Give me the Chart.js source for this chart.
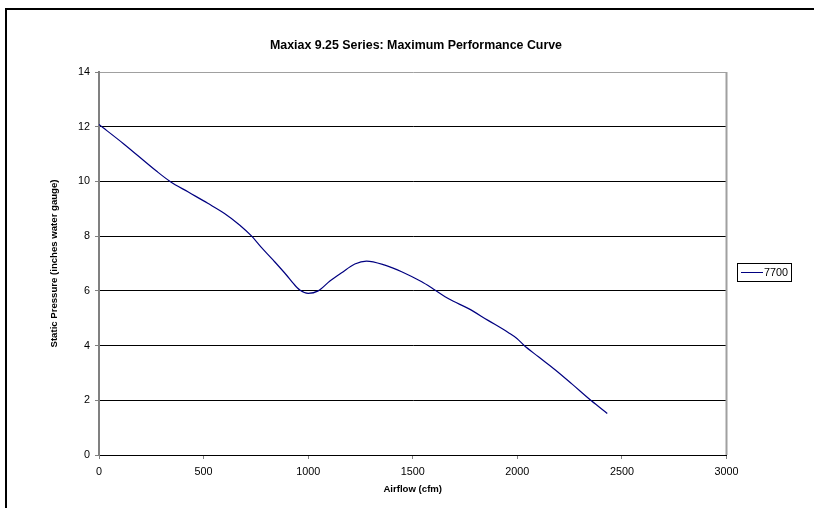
<!DOCTYPE html>
<html>
<head>
<meta charset="utf-8">
<script src="https://cdn.jsdelivr.net/npm/chart.js@4/dist/chart.umd.min.js"></script>
<style>
  html, body { margin: 0; padding: 0; background: #fff; overflow: hidden; }
  #wrap { position: relative; width: 814px; height: 508px; }
  #frame { position: absolute; left: 5px; top: 8px; width: 900px; height: 600px;
           border-left: 2px solid #000; border-top: 2px solid #000; }
  canvas { position: absolute; left: 0; top: 0; }
</style>
</head>
<body>
<div id="wrap">
  <div id="frame"></div>
  <canvas id="c" width="814" height="508"></canvas>
</div>
<script>
const chartTitle = 'Maxiax 9.25 Series: Maximum Performance Curve';
const xTitle = 'Airflow (cfm)';
const yTitle = 'Static Pressure (inches water gauge)';
const seriesName = '7700';

const airflow  = [0, 117, 276, 340, 425, 520, 600, 672, 730, 774, 832, 896, 928, 960, 1000, 1048, 1104, 1160, 1223, 1279, 1367, 1447, 1543, 1600, 1674, 1767, 1858, 1958, 1998, 2030, 2101, 2182, 2262, 2354, 2430];
const pressure = [12.08, 11.38, 10.37, 10.0, 9.62, 9.2, 8.83, 8.41, 8.0, 7.61, 7.13, 6.58, 6.28, 6.03, 5.91, 6.0, 6.36, 6.66, 6.98, 7.09, 6.94, 6.70, 6.33, 6.06, 5.70, 5.35, 4.93, 4.47, 4.26, 4.02, 3.59, 3.11, 2.59, 1.98, 1.52];

const xTicks = [0, 500, 1000, 1500, 2000, 2500, 3000];
const yTicks = [0, 2, 4, 6, 8, 10, 12, 14];

const FONT = '"Liberation Sans", Arial, sans-serif';
const lineColor = '#000080';

const decor = {
  id: 'decor',
  afterDraw(chart) {
    const { ctx, chartArea: a } = chart;
    ctx.save();
    // right border of plot area
    ctx.strokeStyle = '#a0a0a0';
    ctx.lineWidth = 2;
    ctx.beginPath();
    ctx.moveTo(a.right, a.top);
    ctx.lineTo(a.right, a.bottom);
    ctx.stroke();
    // chart title
    ctx.fillStyle = '#000';
    ctx.font = 'bold 12.4px ' + FONT;
    ctx.textAlign = 'center';
    ctx.textBaseline = 'middle';
    ctx.fillText(chartTitle, 416, 46);
    // legend
    const lx = 737, ly = 263, lw = 54, lh = 18;
    ctx.strokeStyle = '#000';
    ctx.lineWidth = 1;
    ctx.strokeRect(lx + 0.5, ly + 0.5, lw, lh);
    const ds = chart.data.datasets[0];
    ctx.strokeStyle = ds.borderColor;
    ctx.lineWidth = 1;
    ctx.beginPath();
    ctx.moveTo(lx + 4, ly + 9.5);
    ctx.lineTo(lx + 26, ly + 9.5);
    ctx.stroke();
    ctx.fillStyle = '#000';
    ctx.font = '10.8px ' + FONT;
    ctx.textAlign = 'left';
    ctx.fillText(ds.label, lx + 27, ly + 10);
    ctx.restore();
  }
};

new Chart(document.getElementById('c'), {
  type: 'line',
  data: {
    datasets: [{
      label: seriesName,
      data: airflow.map((x, i) => ({ x: x, y: pressure[i] })),
      borderColor: lineColor,
      borderWidth: 1.2,
      pointRadius: 0,
      fill: false,
      cubicInterpolationMode: 'monotone'
    }]
  },
  options: {
    responsive: false,
    animation: false,
    devicePixelRatio: 1,
    layout: { padding: { left: 18, right: 87.5, top: 72, bottom: 0 } },
    plugins: {
      legend: { display: false },
      title: { display: false },
      tooltip: { enabled: false }
    },
    scales: {
      x: {
        type: 'linear',
        min: 0, max: 3000,
        afterBuildTicks: s => { s.ticks = xTicks.map(v => ({ value: v })); },
        afterFit: s => { s.height = 53; },
        grid: { drawOnChartArea: false, drawTicks: true, tickLength: 4, tickColor: '#808080' },
        border: { display: true, color: '#000', width: 1 },
        ticks: { color: '#000', padding: 7, font: { family: FONT, size: 10.8 }, maxRotation: 0, autoSkip: false,
                 callback: v => String(v) },
        title: { display: true, text: xTitle, color: '#000', font: { family: FONT, size: 9.6, weight: 'bold' }, padding: { top: 0, bottom: 13 } }
      },
      y: {
        type: 'linear',
        min: 0, max: 14,
        afterBuildTicks: s => { s.ticks = yTicks.map(v => ({ value: v })); },
        afterFit: s => { s.width = 81; },
        grid: {
          color: c => (c.tick && c.tick.value === 14) ? '#a0a0a0' : '#000',
          lineWidth: 1,
          drawTicks: true, tickLength: 4, tickColor: '#808080'
        },
        border: { display: true, color: '#808080', width: 2 },
        ticks: { color: '#000', padding: 5, font: { family: FONT, size: 10.8 }, autoSkip: false,
                 callback: v => String(v) },
        title: { display: true, text: yTitle, color: '#000', font: { family: FONT, size: 9.6, weight: 'bold' }, padding: { top: 31, bottom: 0 } }
      }
    }
  },
  plugins: [decor]
});
</script>
</body>
</html>
